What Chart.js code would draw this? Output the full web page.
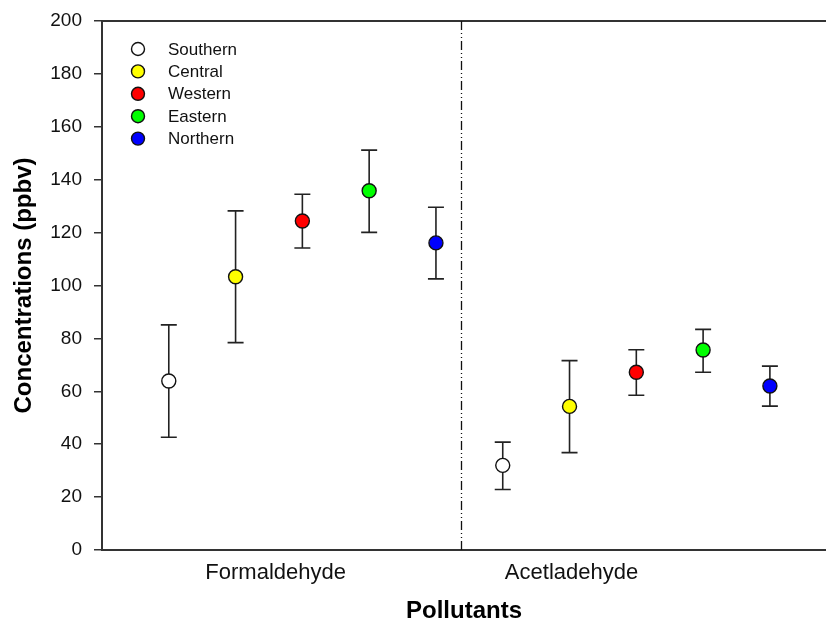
<!DOCTYPE html>
<html>
<head>
<meta charset="utf-8">
<script src="https://cdn.jsdelivr.net/npm/chart.js@4.4.1/dist/chart.umd.min.js"></script>
<style>
  html, body { margin: 0; padding: 0; background: #fff; }
  #wrap { width: 826px; height: 623px; }
</style>
</head>
<body>
<div id="wrap"><canvas id="myChart"></canvas></div>
<script>
// pollutant groups along the x axis, and the five regions in each group
const pollutants = ['Formaldehyde', 'Acetladehyde'];
const regions = ['Southern', 'Central', 'Western', 'Eastern', 'Northern'];
const regionColors = ['#ffffff', '#ffff00', '#ff0000', '#00ff00', '#0000ff'];

// mean concentration (ppbv) per region: [Formaldehyde, Acetladehyde]
const southernMean = [63.9, 32.0];
const centralMean = [103.3, 54.3];
const westernMean = [124.4, 67.2];
const easternMean = [135.8, 75.6];
const northernMean = [116.1, 62.0];

// upper / lower ends of the error bars
const southernHigh = [85.1, 40.8];
const southernLow = [42.6, 22.9];
const centralHigh = [128.2, 71.6];
const centralLow = [78.4, 36.8];
const westernHigh = [134.5, 75.7];
const westernLow = [114.2, 58.5];
const easternHigh = [151.2, 83.4];
const easternLow = [120.1, 67.2];
const northernHigh = [129.6, 69.5];
const northernLow = [102.5, 54.4];

const yTicks = [0, 20, 40, 60, 80, 100, 120, 140, 160, 180, 200];
// where the group names sit on the x axis
const groupTicks = [2.6, 7.03];

const means = [southernMean, centralMean, westernMean, easternMean, northernMean];
const highs = [southernHigh, centralHigh, westernHigh, easternHigh, northernHigh];
const lows = [southernLow, centralLow, westernLow, easternLow, northernLow];

// each group takes 5 slots; slot 0 of the first group is the left axis
const slot = (g, r) => g * 5 + r + 1;

const datasets = regions.map((name, r) => ({
  label: name,
  data: pollutants.map((p, g) => ({ x: slot(g, r), y: means[r][g], hi: highs[r][g], lo: lows[r][g] })),
  pointRadius: 7,
  pointHoverRadius: 7,
  pointBackgroundColor: regionColors[r],
  pointBorderColor: '#111',
  pointBorderWidth: 1.4,
  showLine: false
}));

const FONT = "'Liberation Sans', Arial, sans-serif";

// error bars with caps, under the markers
const errorBars = {
  id: 'errorBars',
  beforeDatasetsDraw(chart) {
    const ctx = chart.ctx;
    const xs = chart.scales.x, ys = chart.scales.y;
    ctx.save();
    ctx.strokeStyle = '#222';
    ctx.lineWidth = 1.6;
    chart.data.datasets.forEach(ds => {
      ds.data.forEach(pt => {
        const x = xs.getPixelForValue(pt.x);
        const top = ys.getPixelForValue(pt.hi);
        const bot = ys.getPixelForValue(pt.lo);
        ctx.beginPath();
        ctx.moveTo(x, top); ctx.lineTo(x, bot);
        ctx.moveTo(x - 8, top); ctx.lineTo(x + 8, top);
        ctx.moveTo(x - 8, bot); ctx.lineTo(x + 8, bot);
        ctx.stroke();
      });
    });
    ctx.restore();
  }
};

// top frame line and the dash-dot-dot divider between the two groups
const frame = {
  id: 'frame',
  beforeDatasetsDraw(chart) {
    const ctx = chart.ctx;
    const a = chart.chartArea;
    const xs = chart.scales.x;
    ctx.save();
    ctx.strokeStyle = '#333';
    ctx.lineWidth = 2;
    ctx.beginPath();
    ctx.moveTo(a.left, a.top); ctx.lineTo(a.right, a.top);
    ctx.stroke();
    const dx = Math.round(xs.getPixelForValue(5.37)) + 0.5;
    ctx.lineWidth = 1.3;
    ctx.strokeStyle = '#111';
    ctx.setLineDash([9, 3, 1, 3, 1, 3]);
    ctx.beginPath();
    ctx.moveTo(dx, a.top); ctx.lineTo(dx, a.bottom);
    ctx.stroke();
    ctx.restore();
  }
};

// legend inside the plot, top left
const insideLegend = {
  id: 'insideLegend',
  afterDatasetsDraw(chart) {
    const ctx = chart.ctx;
    const a = chart.chartArea;
    ctx.save();
    ctx.font = '17px ' + FONT;
    ctx.textBaseline = 'middle';
    chart.data.datasets.forEach((ds, i) => {
      const cx = a.left + 36;
      const cy = a.top + 28 + i * 22.4;
      ctx.beginPath();
      ctx.arc(cx, cy, 6.5, 0, Math.PI * 2);
      ctx.fillStyle = ds.pointBackgroundColor;
      ctx.fill();
      ctx.lineWidth = 1.4;
      ctx.strokeStyle = '#111';
      ctx.stroke();
      ctx.fillStyle = '#111';
      ctx.fillText(ds.label, a.left + 66, cy + 1);
    });
    ctx.restore();
  }
};

const ctx = document.getElementById('myChart').getContext('2d');
const myChart = new Chart(ctx, {
  type: 'scatter',
  data: { datasets: datasets },
  plugins: [frame, errorBars, insideLegend],
  options: {
    responsive: true,
    maintainAspectRatio: false,
    animation: false,
    layout: { autoPadding: false, padding: { top: 21, right: 0, left: 0, bottom: 0 } },
    plugins: { legend: { display: false }, tooltip: { enabled: false } },
    scales: {
      x: {
        type: 'linear',
        min: 0,
        max: 10.84,
        afterFit(scale) {
          scale.height = 73;
          scale.paddingLeft = 0;
          scale.paddingRight = 0;
        },
        afterBuildTicks(scale) {
          scale.ticks = groupTicks.map(v => ({ value: v }));
        },
        ticks: {
          autoSkip: false,
          maxRotation: 0,
          padding: 10,
          color: '#111',
          font: { family: FONT, size: 22 },
          callback: (v) => pollutants[groupTicks.indexOf(v)]
        },
        grid: { display: false, drawTicks: false },
        border: { display: true, color: '#333', width: 2 },
        title: {
          display: true,
          text: 'Pollutants',
          color: '#000',
          padding: 0,
          font: { family: FONT, size: 24, weight: 'bold', lineHeight: 1.0 }
        }
      },
      y: {
        min: 0,
        max: 200,
        afterFit(scale) {
          scale.width = 102;
          scale.paddingTop = 0;
          scale.paddingBottom = 0;
        },
        afterBuildTicks(scale) {
          scale.ticks = yTicks.map(v => ({ value: v }));
        },
        ticks: {
          padding: 12,
          color: '#111',
          font: { family: FONT, size: 19 }
        },
        grid: { drawOnChartArea: false, drawTicks: true, tickLength: 8, color: '#333', lineWidth: 1.5 },
        border: { display: true, color: '#333', width: 2 },
        title: {
          display: true,
          text: 'Concentrations (ppbv)',
          color: '#000',
          padding: { top: 10, bottom: 0 },
          font: { family: FONT, size: 24, weight: 'bold' }
        }
      }
    }
  }
});
</script>
</body>
</html>
